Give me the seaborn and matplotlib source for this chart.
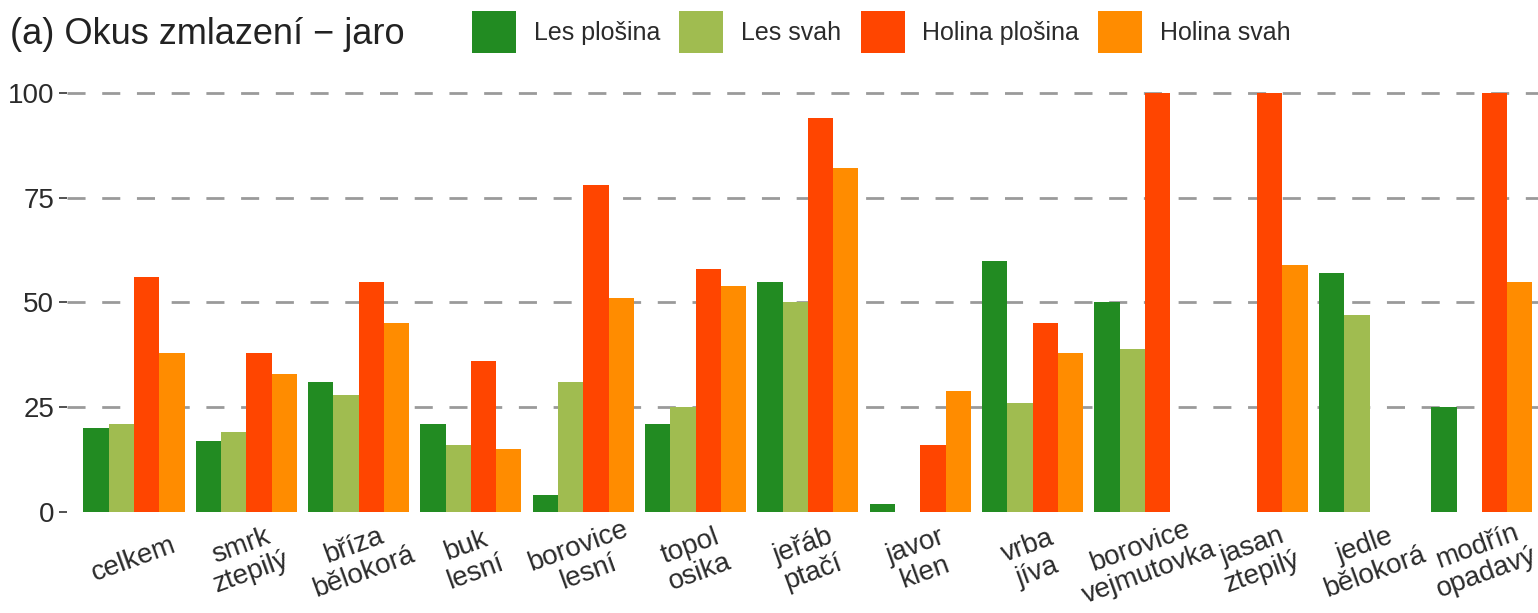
import numpy as np
import pandas as pd
import matplotlib
matplotlib.use("Agg")
import matplotlib.pyplot as plt
import seaborn as sns

# Browsing damage of regeneration in spring (%), by species and site type
species = ["celkem", "smrk\nztepilý", "bříza\nbělokorá", "buk\nlesní",
           "borovice\nlesní", "topol\nosika", "jeřáb\nptačí", "javor\nklen",
           "vrba\njíva", "borovice\nvejmutovka", "jasan\nztepilý",
           "jedle\nbělokorá", "modřín\nopadavý"]
sites = ["Les plošina", "Les svah", "Holina plošina", "Holina svah"]

les_plosina = [20, 17, 31, 21, 4, 21, 55, 2, 60, 50, np.nan, 57, 25]
les_svah = [21, 19, 28, 16, 31, 25, 50, np.nan, 26, 39, np.nan, 47, np.nan]
holina_plosina = [56, 38, 55, 36, 78, 58, 94, 16, 45, 100, 100, np.nan, 100]
holina_svah = [38, 33, 45, 15, 51, 54, 82, 29, 38, np.nan, 59, np.nan, 55]

site_colors = ["#228B22", "#A0BC50", "#FF4500", "#FF8C00"]

df = pd.DataFrame({
    "druh": np.tile(species, 4),
    "plocha": np.repeat(sites, len(species)),
    "okus": np.concatenate([les_plosina, les_svah, holina_plosina, holina_svah]),
})

sns.set_theme(style="white")
plt.rcParams["font.family"] = ["Liberation Sans", "DejaVu Sans"]

W, H = 1538, 613
fig = plt.figure(figsize=(W / 100, H / 100), dpi=100)
ax = fig.add_axes([66.6 / W, 1 - 533 / H, 1 - 66.6 / W, (533 - 72) / H])

sns.barplot(data=df, x="druh", y="okus", hue="plocha", order=species,
            hue_order=sites, palette=site_colors, width=0.9, saturation=1,
            errorbar=None, linewidth=0, edgecolor="none", ax=ax)

ax.set_xlim(-0.6, 12.5)
ax.set_ylim(-5, 105)
ax.set_yticks([0, 25, 50, 75, 100])
ax.set_xlabel("")
ax.set_ylabel("")
for s in ax.spines.values():
    s.set_visible(False)

# dashed horizontal guides behind the bars (none at zero)
ax.set_axisbelow(True)
for v in [25, 50, 75, 100]:
    ax.axhline(v, color="#9a9a9a", lw=2, ls=(0, (6.5, 6)), zorder=0)

ax.tick_params(axis="y", length=6, width=1.2, color="#333333", pad=3,
               labelsize=20, labelcolor="#2b2b2b", left=True)
ax.tick_params(axis="x", length=0, pad=19, labelsize=20, labelcolor="#2b2b2b")
for lab in ax.get_xticklabels():
    lab.set_rotation(20)
    lab.set_rotation_mode("anchor")
    lab.set_ha("center")
    lab.set_va("center")
    lab.set_multialignment("center")
    lab.set_linespacing(1.1)

sns.move_legend(ax, loc="center left", bbox_to_anchor=(472 / W, 1 - 32 / H),
                bbox_transform=fig.transFigure, ncol=4, title=None,
                frameon=False, fontsize=18, handlelength=1.76,
                handleheight=2.2, handletextpad=0.72, columnspacing=0.76,
                borderpad=0, borderaxespad=0)
for t in ax.get_legend().get_texts():
    t.set_color("#2b2b2b")

fig.text(10 / W, 1 - 34 / H, "(a) Okus zmlazení − jaro", fontsize=26,
         color="#222222", ha="left", va="center")

fig.savefig("out.png", dpi=100, facecolor="white")
